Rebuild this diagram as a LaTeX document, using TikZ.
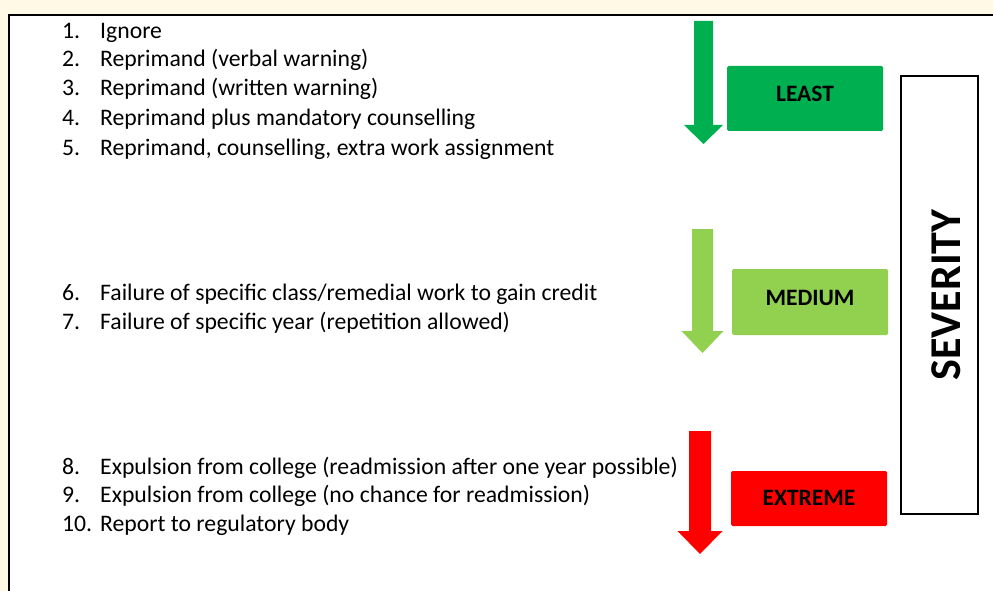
\documentclass[tikz,border=0pt]{standalone}
\usepackage{fontspec}
\setmainfont{Carlito}
\definecolor{paper}{HTML}{FFF9E6}
\definecolor{leastgreen}{HTML}{00B050}
\definecolor{mediumgreen}{HTML}{92D050}
\definecolor{extremered}{HTML}{FF0000}
\begin{document}
\begin{tikzpicture}
[
    x=1pt, y=-1pt,
    item/.style={anchor=base west, inner sep=0pt, font=\fontsize{23.7}{28}\selectfont},
    level/.style={rounded corners=1.5pt, minimum width=156pt, inner sep=0pt,
        font=\fontsize{23.5}{28}\selectfont\bfseries},
    scale box/.style={draw, line width=1.6pt, minimum width=77pt, minimum height=438pt, inner sep=0pt}
]
    \useasboundingbox (0,0) rectangle (993,591);
    \fill[paper] (0,0) rectangle (993,591);
    \filldraw[fill=white, draw=black, line width=1.2pt] (9,15) rectangle (1010,610);

    % list of sanctions
    \foreach \num/\txt/\yb [count=\i] in {
        1./Ignore/39,
        2./Reprimand (verbal warning)/67,
        3./Reprimand (written warning)/96,
        4./Reprimand plus mandatory counselling/126,
        5./{Reprimand, counselling, extra work assignment}/155,
        6./{Failure of specific class/remedial work to gain credit}/300,
        7./Failure of specific year (repetition allowed)/329,
        8./Expulsion from college (readmission after one year possible)/474,
        9./Expulsion from college (no chance for readmission)/502,
        10./Report to regulatory body/531}
    {
        \node[item] (num\i) at (62,\yb) {\num};
        \node[item] (item\i) at (100,\yb) {\txt};
    }

    % block arrows
    \foreach \cx/\w/\h/\top/\hs/\tip/\col in {
        703.5/9.5/19.5/21/125/144/leastgreen,
        702.5/10.5/21/229/331/353/mediumgreen,
        700/11/22.5/431/531/554/extremered}
    {
        \fill[\col] (\cx-\w,\top) -- (\cx+\w,\top) -- (\cx+\w,\hs) -- (\cx+\h,\hs)
            -- (\cx,\tip) -- (\cx-\h,\hs) -- (\cx-\w,\hs) -- cycle;
    }

    % severity levels
    \node[level, fill=leastgreen, minimum height=65pt] (least) at (805,98.5) {\raisebox{9.5pt}{LEAST}};
    \node[level, fill=mediumgreen, minimum height=66pt] (medium) at (810,302) {\raisebox{8pt}{MEDIUM}};
    \node[level, fill=extremered, minimum height=55pt] (extreme) at (809,498.5) {\raisebox{2pt}{EXTREME}};

    \node[scale box] (severity) at (939.5,295) {};
    \node[rotate=90, font=\fontsize{44}{48}\selectfont\bfseries] (severitylabel)
        at ([xshift=6.5pt]severity.center) {SEVERITY};
\end{tikzpicture}
\end{document}
